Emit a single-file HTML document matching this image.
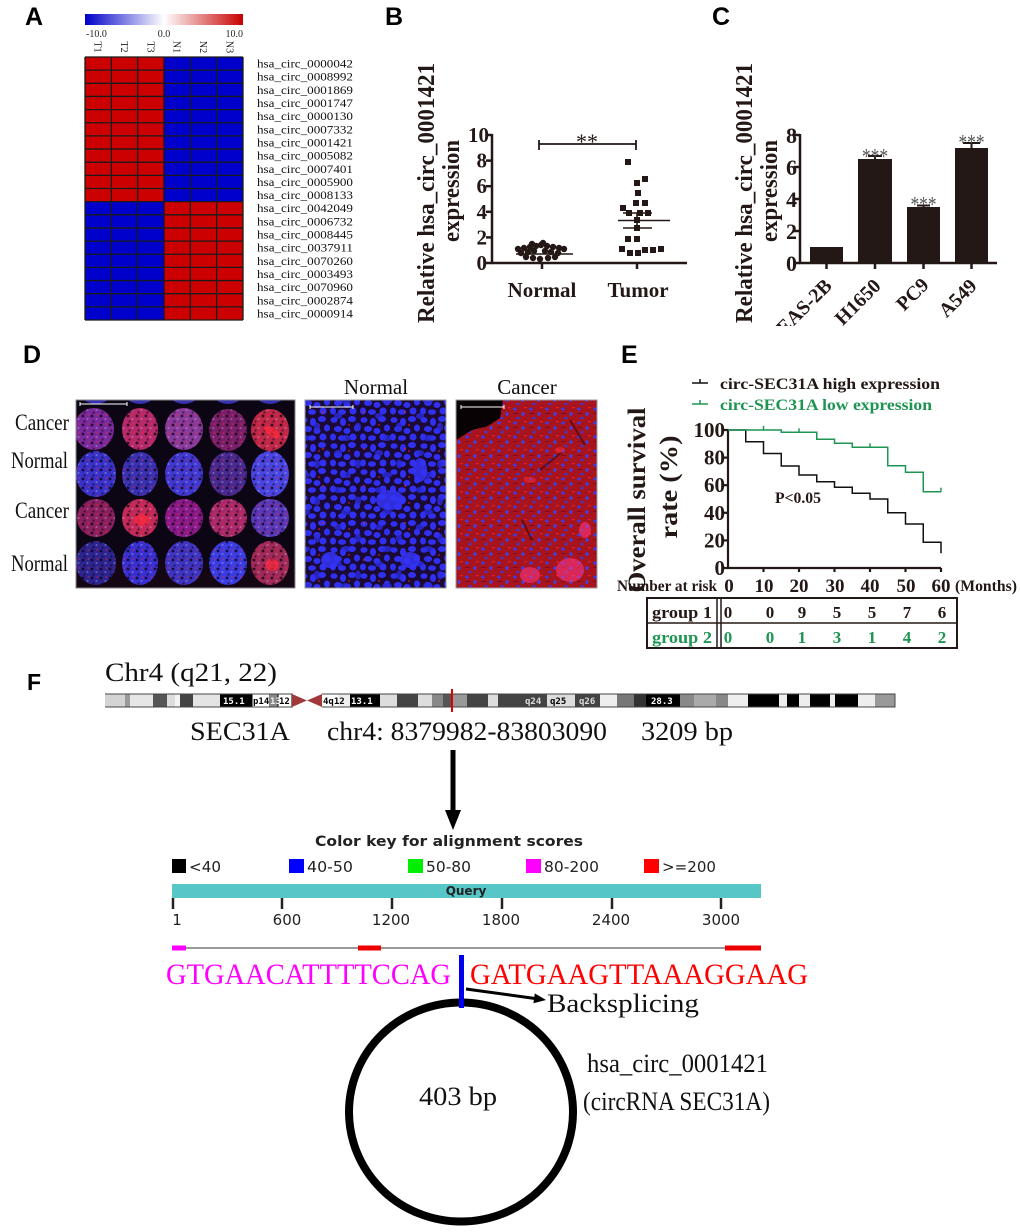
<!DOCTYPE html>
<html><head><meta charset="utf-8">
<style>
html,body{margin:0;padding:0;background:#fff;}
svg{display:block;}
.s{font-family:"Liberation Serif",serif;}
.b{font-weight:bold;}
.sa{font-family:"Liberation Sans",sans-serif;font-weight:bold;}
.dv{font-family:"DejaVu Sans","Liberation Sans",sans-serif;}
.mono{font-family:"DejaVu Sans Mono","Liberation Mono",monospace;font-weight:bold;}
</style></head>
<body>
<svg width="1020" height="1232" viewBox="0 0 1020 1232" xmlns="http://www.w3.org/2000/svg">
<defs>
  <linearGradient id="cbar" x1="0" x2="1" y1="0" y2="0">
    <stop offset="0" stop-color="#0000c8"/>
    <stop offset="0.5" stop-color="#ffffff"/>
    <stop offset="1" stop-color="#c80000"/>
  </linearGradient>
  <pattern id="tex" width="9" height="9" patternUnits="userSpaceOnUse">
    <circle cx="2" cy="2" r="1.4" fill="#000" opacity=".45"/>
    <circle cx="6.5" cy="5" r="1" fill="#fff" opacity=".15"/>
    <circle cx="3.5" cy="7.5" r="1.1" fill="#000" opacity=".3"/>
    <circle cx="7.5" cy="1" r="0.9" fill="#ff2040" opacity=".35"/>
  </pattern>
  <pattern id="tex2" width="13" height="11" patternUnits="userSpaceOnUse">
    <ellipse cx="4" cy="5" rx="2" ry="1.2" fill="#000" opacity=".35"/>
    <circle cx="10" cy="9" r="1" fill="#fff" opacity=".12"/>
  </pattern>
  <pattern id="nuc" width="30" height="26" patternUnits="userSpaceOnUse">
    <g fill="#3030f2">
      <ellipse cx="4" cy="4" rx="3.5" ry="2.8"/>
      <ellipse cx="13" cy="6" rx="3" ry="4"/>
      <ellipse cx="22" cy="3" rx="4" ry="3"/>
      <ellipse cx="27" cy="12" rx="3" ry="3.5"/>
      <ellipse cx="8" cy="13" rx="4" ry="3"/>
      <ellipse cx="17" cy="15" rx="3.5" ry="3"/>
      <ellipse cx="3" cy="21" rx="3" ry="3.5"/>
      <ellipse cx="12" cy="22" rx="4" ry="2.8"/>
      <ellipse cx="23" cy="21" rx="3.5" ry="3.5"/>
    </g>
    <circle cx="19" cy="9" r="0.8" fill="#ff2030"/>
  </pattern>
  <pattern id="nuc2" width="41" height="37" patternUnits="userSpaceOnUse">
    <g fill="#2a2ae0" opacity=".8">
      <ellipse cx="10" cy="9" rx="4" ry="3"/>
      <ellipse cx="30" cy="20" rx="3" ry="4.5"/>
      <ellipse cx="18" cy="31" rx="5" ry="3"/>
    </g>
    <circle cx="36" cy="5" r="0.9" fill="#e02030"/>
  </pattern>
  <pattern id="rdots" width="16" height="14" patternUnits="userSpaceOnUse">
    <ellipse cx="3" cy="3" rx="1.8" ry="1.5" fill="#3a3ae6"/>
    <ellipse cx="11" cy="8" rx="1.6" ry="1.8" fill="#4040e8"/>
    <ellipse cx="6" cy="12" rx="1.5" ry="1.3" fill="#3838e0"/>
    <rect x="12" y="1" width="3" height="1.2" fill="#e02020"/>
    <rect x="1" y="7" width="5" height="1" fill="#600810" opacity=".6"/>
  </pattern>
  <clipPath id="bigclip"><rect x="76" y="400" width="219" height="188"/></clipPath>
  <clipPath id="cclip"><rect x="700" y="0" width="320" height="326"/></clipPath>
</defs>

<!-- ================= PANEL A ================= -->
<text class="sa" x="25" y="25" font-size="25">A</text>
<rect x="85" y="14" width="158" height="11" fill="url(#cbar)"/>
<g class="s" font-size="10" fill="#222">
  <text x="86" y="37">-10.0</text>
  <text x="164" y="37" text-anchor="middle">0.0</text>
  <text x="243" y="37" text-anchor="end">10.0</text>
</g>
<g class="s" font-size="10" fill="#222">
  <text transform="translate(94.7,47) rotate(90)" text-anchor="middle">T1</text>
  <text transform="translate(121,47) rotate(90)" text-anchor="middle">T2</text>
  <text transform="translate(147.3,47) rotate(90)" text-anchor="middle">T3</text>
  <text transform="translate(173.7,47) rotate(90)" text-anchor="middle">N1</text>
  <text transform="translate(200,47) rotate(90)" text-anchor="middle">N2</text>
  <text transform="translate(226.3,47) rotate(90)" text-anchor="middle">N3</text>
</g>
<rect x="85" y="57" width="79" height="144.65" fill="#cc0000"/>
<rect x="164" y="57" width="79" height="144.65" fill="#0000cc"/>
<rect x="85" y="201.65" width="79" height="118.35" fill="#0000cc"/>
<rect x="164" y="201.65" width="79" height="118.35" fill="#cc0000"/>
<g stroke="#1a1a1a" stroke-width="1.3">
  <line x1="85" y1="57" x2="85" y2="320"/><line x1="111.33" y1="57" x2="111.33" y2="320"/>
  <line x1="137.67" y1="57" x2="137.67" y2="320"/><line x1="164" y1="57" x2="164" y2="320"/>
  <line x1="190.33" y1="57" x2="190.33" y2="320"/><line x1="216.67" y1="57" x2="216.67" y2="320"/>
  <line x1="243" y1="57" x2="243" y2="320"/>
  <line x1="85" y1="57" x2="243" y2="57"/><line x1="85" y1="70.15" x2="243" y2="70.15"/>
  <line x1="85" y1="83.3" x2="243" y2="83.3"/><line x1="85" y1="96.45" x2="243" y2="96.45"/>
  <line x1="85" y1="109.6" x2="243" y2="109.6"/><line x1="85" y1="122.75" x2="243" y2="122.75"/>
  <line x1="85" y1="135.9" x2="243" y2="135.9"/><line x1="85" y1="149.05" x2="243" y2="149.05"/>
  <line x1="85" y1="162.2" x2="243" y2="162.2"/><line x1="85" y1="175.35" x2="243" y2="175.35"/>
  <line x1="85" y1="188.5" x2="243" y2="188.5"/><line x1="85" y1="201.65" x2="243" y2="201.65"/>
  <line x1="85" y1="214.8" x2="243" y2="214.8"/><line x1="85" y1="227.95" x2="243" y2="227.95"/>
  <line x1="85" y1="241.1" x2="243" y2="241.1"/><line x1="85" y1="254.25" x2="243" y2="254.25"/>
  <line x1="85" y1="267.4" x2="243" y2="267.4"/><line x1="85" y1="280.55" x2="243" y2="280.55"/>
  <line x1="85" y1="293.7" x2="243" y2="293.7"/><line x1="85" y1="306.85" x2="243" y2="306.85"/>
  <line x1="85" y1="320" x2="243" y2="320"/>
</g>
<g class="s" font-size="11.5" fill="#111">
  <text x="257" y="67.6" textLength="96" lengthAdjust="spacingAndGlyphs">hsa_circ_0000042</text>
  <text x="257" y="80.7" textLength="96" lengthAdjust="spacingAndGlyphs">hsa_circ_0008992</text>
  <text x="257" y="93.9" textLength="96" lengthAdjust="spacingAndGlyphs">hsa_circ_0001869</text>
  <text x="257" y="107" textLength="96" lengthAdjust="spacingAndGlyphs">hsa_circ_0001747</text>
  <text x="257" y="120.2" textLength="96" lengthAdjust="spacingAndGlyphs">hsa_circ_0000130</text>
  <text x="257" y="133.3" textLength="96" lengthAdjust="spacingAndGlyphs">hsa_circ_0007332</text>
  <text x="257" y="146.5" textLength="96" lengthAdjust="spacingAndGlyphs">hsa_circ_0001421</text>
  <text x="257" y="159.6" textLength="96" lengthAdjust="spacingAndGlyphs">hsa_circ_0005082</text>
  <text x="257" y="172.8" textLength="96" lengthAdjust="spacingAndGlyphs">hsa_circ_0007401</text>
  <text x="257" y="185.9" textLength="96" lengthAdjust="spacingAndGlyphs">hsa_circ_0005900</text>
  <text x="257" y="199.1" textLength="96" lengthAdjust="spacingAndGlyphs">hsa_circ_0008133</text>
  <text x="257" y="212.2" textLength="96" lengthAdjust="spacingAndGlyphs">hsa_circ_0042049</text>
  <text x="257" y="225.4" textLength="96" lengthAdjust="spacingAndGlyphs">hsa_circ_0006732</text>
  <text x="257" y="238.5" textLength="96" lengthAdjust="spacingAndGlyphs">hsa_circ_0008445</text>
  <text x="257" y="251.7" textLength="96" lengthAdjust="spacingAndGlyphs">hsa_circ_0037911</text>
  <text x="257" y="264.8" textLength="96" lengthAdjust="spacingAndGlyphs">hsa_circ_0070260</text>
  <text x="257" y="278" textLength="96" lengthAdjust="spacingAndGlyphs">hsa_circ_0003493</text>
  <text x="257" y="291.1" textLength="96" lengthAdjust="spacingAndGlyphs">hsa_circ_0070960</text>
  <text x="257" y="304.3" textLength="96" lengthAdjust="spacingAndGlyphs">hsa_circ_0002874</text>
  <text x="257" y="317.4" textLength="96" lengthAdjust="spacingAndGlyphs">hsa_circ_0000914</text>
</g>

<!-- ================= PANEL B ================= -->
<text class="sa" x="385" y="25" font-size="25">B</text>
<g class="s b" fill="#231815">
  <text transform="translate(434,193) rotate(-90)" text-anchor="middle" font-size="24" textLength="260" lengthAdjust="spacingAndGlyphs">Relative  hsa_circ_0001421</text>
  <text transform="translate(459,191) rotate(-90)" text-anchor="middle" font-size="24" textLength="102" lengthAdjust="spacingAndGlyphs">expression</text>
</g>
<g stroke="#231815" stroke-width="2.5" fill="none">
  <line x1="492" y1="134" x2="492" y2="264"/>
  <line x1="491" y1="263" x2="687" y2="263"/>
  <line x1="486" y1="135" x2="492" y2="135"/><line x1="486" y1="160.6" x2="492" y2="160.6"/>
  <line x1="486" y1="186.2" x2="492" y2="186.2"/><line x1="486" y1="211.8" x2="492" y2="211.8"/>
  <line x1="486" y1="237.4" x2="492" y2="237.4"/><line x1="486" y1="263" x2="492" y2="263"/>
  <line x1="542" y1="263" x2="542" y2="269"/><line x1="637" y1="263" x2="637" y2="269"/>
</g>
<g class="s b" font-size="21" fill="#231815" text-anchor="end">
  <text x="489" y="142">10</text><text x="487" y="167.6">8</text><text x="487" y="193.2">6</text>
  <text x="487" y="218.8">4</text><text x="487" y="244.4">2</text><text x="487" y="270">0</text>
</g>
<g class="s b" font-size="21" fill="#231815" text-anchor="middle">
  <text x="542" y="297">Normal</text><text x="638" y="297">Tumor</text>
</g>
<g stroke="#231815" stroke-width="1.8">
  <line x1="539" y1="144" x2="636" y2="144"/>
  <line x1="539" y1="140" x2="539" y2="150"/><line x1="636" y1="140" x2="636" y2="150"/>
</g>
<text class="s" x="587" y="149" font-size="22" text-anchor="middle" fill="#231815">**</text>
<g fill="#231815">
  <circle cx="518" cy="249" r="3.2"/><circle cx="524" cy="248" r="3.2"/><circle cx="530" cy="247" r="3.2"/>
  <circle cx="536" cy="246" r="3.2"/><circle cx="541" cy="245" r="3.2"/><circle cx="547" cy="246" r="3.2"/>
  <circle cx="553" cy="247" r="3.2"/><circle cx="559" cy="248" r="3.2"/><circle cx="564" cy="249" r="3.2"/>
  <circle cx="521" cy="253" r="3.2"/><circle cx="528" cy="252" r="3.2"/><circle cx="534" cy="251" r="3.2"/>
  <circle cx="545" cy="251" r="3.2"/><circle cx="551" cy="252" r="3.2"/><circle cx="558" cy="253" r="3.2"/>
  <circle cx="526" cy="257" r="3.2"/><circle cx="533" cy="258" r="3.2"/><circle cx="540" cy="259" r="3.2"/>
  <circle cx="548" cy="258" r="3.2"/><circle cx="555" cy="257" r="3.2"/><circle cx="543" cy="243" r="3.2"/>
  <circle cx="532" cy="244" r="3.2"/>
</g>
<g stroke="#231815" stroke-width="1.6">
  <line x1="516" y1="254" x2="573" y2="254"/>
  <line x1="618" y1="220.5" x2="670" y2="220.5"/>
  <line x1="623" y1="213" x2="652" y2="213"/><line x1="623" y1="228" x2="652" y2="228"/>
  <line x1="637" y1="213" x2="637" y2="228"/>
</g>
<g fill="#231815">
  <rect x="625" y="159" width="6" height="6"/><rect x="642" y="176" width="6" height="6"/>
  <rect x="634" y="180" width="6" height="6"/><rect x="635" y="190" width="6" height="6"/>
  <rect x="620" y="205" width="6" height="6"/><rect x="633" y="200" width="6" height="6"/>
  <rect x="642" y="200" width="6" height="6"/><rect x="626" y="210" width="6" height="6"/>
  <rect x="637" y="210" width="6" height="6"/><rect x="645" y="210" width="6" height="6"/>
  <rect x="634" y="217" width="6" height="6"/><rect x="634" y="225" width="6" height="6"/>
  <rect x="625" y="236" width="6" height="6"/><rect x="634" y="236" width="6" height="6"/>
  <rect x="619" y="246" width="6" height="6"/><rect x="627" y="250" width="6" height="6"/>
  <rect x="635" y="250" width="6" height="6"/><rect x="642" y="247" width="6" height="6"/>
  <rect x="650" y="247" width="6" height="6"/><rect x="658" y="246" width="6" height="6"/>
</g>

<!-- ================= PANEL C ================= -->
<text class="sa" x="712" y="25" font-size="25">C</text>
<g clip-path="url(#cclip)">
<g class="s b" fill="#231815">
  <text transform="translate(752,193) rotate(-90)" text-anchor="middle" font-size="24" textLength="260" lengthAdjust="spacingAndGlyphs">Relative hsa_circ_0001421</text>
  <text transform="translate(777,191) rotate(-90)" text-anchor="middle" font-size="24" textLength="102" lengthAdjust="spacingAndGlyphs">expression</text>
</g>
<g fill="#231815">
  <rect x="810" y="247" width="33" height="16"/>
  <rect x="858" y="159" width="34" height="104"/>
  <rect x="907" y="207" width="33" height="56"/>
  <rect x="955" y="148" width="33" height="115"/>
</g>
<g stroke="#231815" stroke-width="2">
  <line x1="875" y1="159" x2="875" y2="156"/><line x1="868" y1="156" x2="882" y2="156"/>
  <line x1="923.5" y1="207" x2="923.5" y2="205.5"/><line x1="917" y1="205.5" x2="930" y2="205.5"/>
  <line x1="971.5" y1="148" x2="971.5" y2="143"/><line x1="963" y1="143" x2="980" y2="143"/>
</g>
<g stroke="#231815" stroke-width="2.5">
  <line x1="800" y1="134" x2="800" y2="264"/>
  <line x1="799" y1="263" x2="997" y2="263"/>
  <line x1="794" y1="135" x2="800" y2="135"/><line x1="794" y1="167" x2="800" y2="167"/>
  <line x1="794" y1="199" x2="800" y2="199"/><line x1="794" y1="231" x2="800" y2="231"/>
  <line x1="794" y1="263" x2="800" y2="263"/>
  <line x1="826.5" y1="263" x2="826.5" y2="269"/><line x1="875" y1="263" x2="875" y2="269"/>
  <line x1="923.5" y1="263" x2="923.5" y2="269"/><line x1="971.5" y1="263" x2="971.5" y2="269"/>
</g>
<g class="s b" font-size="22" fill="#231815" text-anchor="end">
  <text x="797" y="143">8</text><text x="797" y="175">6</text><text x="797" y="207">4</text>
  <text x="797" y="239">2</text><text x="797" y="271">0</text>
</g>
<g class="s" font-size="22" fill="#555" text-anchor="middle">
  <text x="875" y="163.6" textLength="26" lengthAdjust="spacingAndGlyphs">***</text>
  <text x="923.5" y="211.6" textLength="26" lengthAdjust="spacingAndGlyphs">***</text>
  <text x="971.5" y="149.6" textLength="26" lengthAdjust="spacingAndGlyphs">***</text>
</g>
<g class="s b" font-size="20" fill="#231815" text-anchor="end">
  <text transform="translate(833,287) rotate(-45)">BEAS-2B</text>
  <text transform="translate(882,287) rotate(-45)">H1650</text>
  <text transform="translate(930,286) rotate(-45)">PC9</text>
  <text transform="translate(978,287) rotate(-45)">A549</text>
</g>
</g>

<!-- ================= PANEL D ================= -->
<text class="sa" x="23" y="363" font-size="25">D</text>
<g class="s" font-size="23" fill="#111">
  <text x="15" y="430" textLength="54" lengthAdjust="spacingAndGlyphs">Cancer</text>
  <text x="11" y="468" textLength="57" lengthAdjust="spacingAndGlyphs">Normal</text>
  <text x="15" y="518" textLength="54" lengthAdjust="spacingAndGlyphs">Cancer</text>
  <text x="11" y="571" textLength="57" lengthAdjust="spacingAndGlyphs">Normal</text>
  <text x="376" y="394" text-anchor="middle" font-size="21">Normal</text>
  <text x="527" y="394" text-anchor="middle" font-size="21">Cancer</text>
</g>
<rect x="76" y="400" width="219" height="188" fill="#0c0614"/>
<g clip-path="url(#bigclip)">
  <rect x="76" y="560" width="219" height="28" fill="#1a0610" opacity=".6"/>
  <g fill="#3630b4">
    <ellipse cx="96" cy="383" rx="20" ry="21"/><ellipse cx="140" cy="383" rx="20" ry="21"/>
    <ellipse cx="184" cy="383" rx="20" ry="21"/><ellipse cx="228" cy="383" rx="20" ry="21"/>
    <ellipse cx="270" cy="383" rx="20" ry="21"/>
  </g>
  <ellipse cx="94" cy="429" rx="20" ry="21" fill="#7a2a9c"/>
  <ellipse cx="140" cy="429" rx="18" ry="21" fill="#b52a6a"/>
  <ellipse cx="184" cy="429" rx="19" ry="21" fill="#8a3a9a"/>
  <ellipse cx="228" cy="430" rx="19" ry="21" fill="#7a1f6a"/>
  <ellipse cx="270" cy="430" rx="19" ry="21" fill="#c0284a"/>
  <ellipse cx="96" cy="474" rx="20" ry="23" fill="#3a32c8"/>
  <ellipse cx="140" cy="474" rx="18" ry="22" fill="#3a30b0"/>
  <ellipse cx="184" cy="474" rx="19" ry="22" fill="#4038d0"/>
  <ellipse cx="228" cy="474" rx="19" ry="22" fill="#4a2a90"/>
  <ellipse cx="270" cy="474" rx="19" ry="23" fill="#4a44e0"/>
  <ellipse cx="96" cy="518" rx="19" ry="19" fill="#8a2060"/>
  <ellipse cx="140" cy="518" rx="18" ry="19" fill="#c02a5a"/>
  <ellipse cx="184" cy="518" rx="19" ry="19" fill="#8a1a8a"/>
  <ellipse cx="228" cy="518" rx="19" ry="19" fill="#a82a6a"/>
  <ellipse cx="270" cy="518" rx="19" ry="19" fill="#5a38b8"/>
  <ellipse cx="96" cy="563" rx="20" ry="22" fill="#2e2490"/>
  <ellipse cx="140" cy="563" rx="18" ry="22" fill="#3a30d0"/>
  <ellipse cx="184" cy="563" rx="19" ry="22" fill="#3e34c0"/>
  <ellipse cx="228" cy="563" rx="19" ry="22" fill="#3c3ce0"/>
  <ellipse cx="270" cy="563" rx="19" ry="22" fill="#a02a5a"/>
  <g id="circs" fill="url(#tex)">
    <ellipse cx="94" cy="429" rx="20" ry="21"/><ellipse cx="140" cy="429" rx="18" ry="21"/>
    <ellipse cx="184" cy="429" rx="19" ry="21"/><ellipse cx="228" cy="430" rx="19" ry="21"/>
    <ellipse cx="270" cy="430" rx="19" ry="21"/>
    <ellipse cx="96" cy="474" rx="20" ry="23"/><ellipse cx="140" cy="474" rx="18" ry="22"/>
    <ellipse cx="184" cy="474" rx="19" ry="22"/><ellipse cx="228" cy="474" rx="19" ry="22"/>
    <ellipse cx="270" cy="474" rx="19" ry="23"/>
    <ellipse cx="96" cy="518" rx="19" ry="19"/><ellipse cx="140" cy="518" rx="18" ry="19"/>
    <ellipse cx="184" cy="518" rx="19" ry="19"/><ellipse cx="228" cy="518" rx="19" ry="19"/>
    <ellipse cx="270" cy="518" rx="19" ry="19"/>
    <ellipse cx="96" cy="563" rx="20" ry="22"/><ellipse cx="140" cy="563" rx="18" ry="22"/>
    <ellipse cx="184" cy="563" rx="19" ry="22"/><ellipse cx="228" cy="563" rx="19" ry="22"/>
    <ellipse cx="270" cy="563" rx="19" ry="22"/>
  </g>
  <use href="#circs" fill="url(#tex2)"/>
  <g fill="#ff2a3a" opacity=".7">
    <ellipse cx="272" cy="432" rx="9" ry="4" transform="rotate(30 272 432)"/>
    <ellipse cx="142" cy="520" rx="8" ry="6"/>
    <ellipse cx="272" cy="565" rx="7" ry="6"/>
  </g>
</g>
<rect x="76" y="400" width="219" height="188" fill="none" stroke="#888" stroke-width="1"/>
<g stroke="#fff" stroke-width="1">
  <line x1="80" y1="404" x2="127" y2="404"/><line x1="80" y1="402" x2="80" y2="406"/><line x1="127" y1="402" x2="127" y2="406"/>
</g>

<!-- middle image -->
<rect x="305" y="400" width="141" height="188" fill="#1a0a34"/>
<rect x="305" y="400" width="141" height="188" fill="url(#nuc)"/>
<rect x="305" y="400" width="141" height="188" fill="url(#nuc2)"/>
<g fill="#3434f8" opacity=".85">
  <ellipse cx="390" cy="500" rx="14" ry="10"/><ellipse cx="420" cy="470" rx="7" ry="12"/>
  <ellipse cx="330" cy="560" rx="9" ry="8"/><ellipse cx="410" cy="560" rx="10" ry="8"/>
</g>
<rect x="305" y="400" width="141" height="188" fill="none" stroke="#999" stroke-width="1"/>
<g stroke="#fff" stroke-width="1">
  <line x1="310" y1="407" x2="353" y2="407"/><line x1="310" y1="405" x2="310" y2="409"/><line x1="353" y1="405" x2="353" y2="409"/>
</g>

<!-- right image -->
<rect x="456" y="400" width="141" height="188" fill="#a8141e"/>
<rect x="456" y="400" width="141" height="188" fill="url(#rdots)"/>
<path d="M456,400 L503,400 L500,418 L488,426 L472,430 L456,440 Z" fill="#080204"/>
<g stroke="#3a0608" stroke-width="2" opacity=".6" fill="none">
  <path d="M540,470 L562,452"/><path d="M522,520 L532,540"/><path d="M570,420 L585,445"/>
</g>
<g fill="#ff2a3a" opacity=".5">
  <ellipse cx="530" cy="480" rx="6" ry="3"/><ellipse cx="560" cy="450" rx="5" ry="3"/>
</g>
<g fill="#ff3a8a" opacity=".55">
  <ellipse cx="570" cy="570" rx="14" ry="12"/><ellipse cx="530" cy="575" rx="10" ry="8"/>
  <ellipse cx="585" cy="530" rx="6" ry="8"/>
</g>
<rect x="456" y="400" width="141" height="188" fill="none" stroke="#999" stroke-width="1"/>
<g stroke="#fff" stroke-width="1">
  <line x1="461" y1="407" x2="504" y2="407"/><line x1="461" y1="405" x2="461" y2="409"/><line x1="504" y1="405" x2="504" y2="409"/>
</g>

<!-- ================= PANEL E ================= -->
<text class="sa" x="621" y="363" font-size="25">E</text>
<g stroke-width="1.5" fill="none">
  <path d="M692,383 H708 M700,379 V383" stroke="#111"/>
  <path d="M692,404 H708 M700,400 V404" stroke="#1f9553"/>
</g>
<g class="s b" font-size="16">
  <text x="720" y="389" fill="#231815" textLength="220" lengthAdjust="spacingAndGlyphs">circ-SEC31A high expression</text>
  <text x="720" y="410" fill="#1f9553" textLength="212" lengthAdjust="spacingAndGlyphs">circ-SEC31A low expression</text>
</g>
<g class="s b" fill="#231815">
  <text transform="translate(645,500) rotate(-90)" text-anchor="middle" font-size="25" textLength="185" lengthAdjust="spacingAndGlyphs">Overall survival</text>
  <text transform="translate(677,487) rotate(-90)" text-anchor="middle" font-size="25" textLength="103" lengthAdjust="spacingAndGlyphs">rate (%)</text>
</g>
<g stroke="#231815" stroke-width="2.2">
  <line x1="728" y1="429" x2="728" y2="569"/>
  <line x1="727" y1="568" x2="941" y2="568"/>
  <line x1="723" y1="430" x2="728" y2="430"/><line x1="723" y1="457.6" x2="728" y2="457.6"/>
  <line x1="723" y1="485.2" x2="728" y2="485.2"/><line x1="723" y1="512.8" x2="728" y2="512.8"/>
  <line x1="723" y1="540.4" x2="728" y2="540.4"/><line x1="723" y1="568" x2="728" y2="568"/>
  <line x1="763.5" y1="568" x2="763.5" y2="572"/><line x1="799" y1="568" x2="799" y2="572"/>
  <line x1="834.5" y1="568" x2="834.5" y2="572"/><line x1="870" y1="568" x2="870" y2="572"/>
  <line x1="905.5" y1="568" x2="905.5" y2="572"/><line x1="941" y1="568" x2="941" y2="572"/>
</g>
<g class="s b" font-size="21" fill="#231815" text-anchor="end">
  <text x="725" y="437">100</text><text x="725" y="464.6">80</text><text x="725" y="492.2">60</text>
  <text x="725" y="519.8">40</text><text x="725" y="547.4">20</text><text x="725" y="575">0</text>
</g>
<g class="s b" font-size="19" fill="#231815" text-anchor="middle">
  <text x="729" y="592">0</text><text x="764" y="592">10</text><text x="799" y="592">20</text>
  <text x="835" y="592">30</text><text x="870" y="592">40</text><text x="906" y="592">50</text>
  <text x="941" y="592">60</text>
</g>
<g class="s b" font-size="16" fill="#231815">
  <text x="617" y="591" textLength="100" lengthAdjust="spacingAndGlyphs">Number at risk</text>
  <text x="955" y="591" textLength="62" lengthAdjust="spacingAndGlyphs">(Months)</text>
  <text x="775" y="503" textLength="46" lengthAdjust="spacingAndGlyphs">P&lt;0.05</text>
</g>
<path d="M728,430 H745.75 V441.7 H763.5 V453.5 H781.25 V466 H799 V475 H816.75 V481.7 H834.5 V487.3 H852.25 V493.3 H870 V499 H887.75 V512.7 H905.5 V524 H923.25 V542.3 H941 V553.3" fill="none" stroke="#111" stroke-width="1.5"/>
<path d="M728,430 H781.25 V432.3 H816.75 V439.3 H834.5 V443.3 H852.25 V447.3 H887.75 V465.7 H905.5 V472.3 H923.25 V491.7 H941" fill="none" stroke="#1f9553" stroke-width="1.5"/>
<g stroke="#1f9553" stroke-width="1.5">
  <line x1="763.5" y1="430" x2="763.5" y2="426"/><line x1="799" y1="432.3" x2="799" y2="428.3"/>
  <line x1="870" y1="447.3" x2="870" y2="443.3"/><line x1="941" y1="491.7" x2="941" y2="487.7"/>
</g>
<rect x="647" y="598" width="310" height="50" fill="none" stroke="#231815" stroke-width="2"/>
<g stroke="#231815" stroke-width="1.5">
  <line x1="647" y1="623" x2="957" y2="623"/>
  <line x1="717" y1="598" x2="717" y2="648"/><line x1="721" y1="598" x2="721" y2="648"/>
</g>
<g class="s b" font-size="17">
  <text x="652" y="618" fill="#231815" textLength="60" lengthAdjust="spacingAndGlyphs">group 1</text>
  <text x="652" y="643" fill="#1f9553" textLength="60" lengthAdjust="spacingAndGlyphs">group 2</text>
  <g fill="#231815" text-anchor="middle">
    <text x="728" y="618">0</text><text x="770" y="618">0</text><text x="802" y="618">9</text>
    <text x="837" y="618">5</text><text x="872" y="618">5</text><text x="907" y="618">7</text><text x="942" y="618">6</text>
  </g>
  <g fill="#1f9553" text-anchor="middle">
    <text x="728" y="643">0</text><text x="770" y="643">0</text><text x="802" y="643">1</text>
    <text x="837" y="643">3</text><text x="872" y="643">1</text><text x="907" y="643">4</text><text x="942" y="643">2</text>
  </g>
</g>

<!-- ================= PANEL F ================= -->
<text class="sa" x="27" y="690" font-size="23">F</text>
<text class="s" x="105" y="681" font-size="26" fill="#111" textLength="172" lengthAdjust="spacingAndGlyphs">Chr4 (q21, 22)</text>
<g>
  <rect x="105" y="694" width="790" height="13" fill="#fff"/>
  <rect x="105" y="694" width="20" height="13" fill="#d4d4d4"/>
  <rect x="125" y="694" width="5" height="13" fill="#9a9a9a"/>
  <rect x="130" y="694" width="23" height="13" fill="#e6e6e6"/>
  <rect x="153" y="694" width="14" height="13" fill="#555"/>
  <rect x="167" y="694" width="8" height="13" fill="#ddd"/>
  <rect x="175" y="694" width="5" height="13" fill="#f4f4f4"/>
  <rect x="180" y="694" width="13" height="13" fill="#444"/>
  <rect x="193" y="694" width="27" height="13" fill="#e4e4e4"/>
  <rect x="220" y="694" width="32" height="13" fill="#000"/>
  <rect x="252" y="694" width="18" height="13" fill="#fff" stroke="#000" stroke-width="1"/>
  <rect x="270" y="694" width="8" height="13" fill="#888"/>
  <rect x="278" y="694" width="14" height="13" fill="#fff" stroke="#000" stroke-width="1"/>
  <polygon points="292,694 307,700.5 292,707" fill="#a03a3a"/>
  <polygon points="322,694 307,700.5 322,707" fill="#a03a3a"/>
  <rect x="322" y="694" width="16" height="13" fill="#fff"/>
  <rect x="338" y="694" width="12" height="13" fill="#eee"/>
  <rect x="350" y="694" width="30" height="13" fill="#000"/>
  <rect x="380" y="694" width="17" height="13" fill="#ddd"/>
  <rect x="397" y="694" width="21" height="13" fill="#444"/>
  <rect x="418" y="694" width="14" height="13" fill="#ddd"/>
  <rect x="432" y="694" width="11" height="13" fill="#888"/>
  <rect x="443" y="694" width="9" height="13" fill="#555"/>
  <rect x="452" y="694" width="15" height="13" fill="#999"/>
  <rect x="467" y="694" width="21" height="13" fill="#444"/>
  <rect x="488" y="694" width="10" height="13" fill="#ddd"/>
  <rect x="498" y="694" width="23" height="13" fill="#444"/>
  <rect x="521" y="694" width="26" height="13" fill="#444"/>
  <rect x="547" y="694" width="28" height="13" fill="#ddd"/>
  <rect x="575" y="694" width="25" height="13" fill="#444"/>
  <rect x="600" y="694" width="17" height="13" fill="#eee"/>
  <rect x="617" y="694" width="17" height="13" fill="#777"/>
  <rect x="634" y="694" width="12" height="13" fill="#333"/>
  <rect x="646" y="694" width="34" height="13" fill="#000"/>
  <rect x="680" y="694" width="14" height="13" fill="#888"/>
  <rect x="694" y="694" width="22" height="13" fill="#aaa"/>
  <rect x="716" y="694" width="12" height="13" fill="#888"/>
  <rect x="728" y="694" width="20" height="13" fill="#eee"/>
  <rect x="748" y="694" width="31" height="13" fill="#000"/>
  <rect x="779" y="694" width="8" height="13" fill="#eee"/>
  <rect x="787" y="694" width="12" height="13" fill="#000"/>
  <rect x="799" y="694" width="11" height="13" fill="#eee"/>
  <rect x="810" y="694" width="20" height="13" fill="#000"/>
  <rect x="830" y="694" width="5" height="13" fill="#eee"/>
  <rect x="835" y="694" width="23" height="13" fill="#000"/>
  <rect x="858" y="694" width="17" height="13" fill="#eee"/>
  <rect x="875" y="694" width="20" height="13" fill="#999"/>
  <path d="M105,694 H292 M322,694 H895 V707 H322 M292,707 H105 Z" fill="none" stroke="#444" stroke-width="1"/>
  <g class="mono" font-size="9">
    <text x="223" y="704" fill="#fff">15.1</text>
    <text x="253" y="704" fill="#000">p14</text>
    <text x="270" y="704" fill="#eee">13</text>
    <text x="279" y="704" fill="#000">12</text>
    <text x="323" y="704" fill="#000">4q12</text>
    <text x="351" y="704" fill="#fff">13.1</text>
    <text x="525" y="704" fill="#ddd">q24</text>
    <text x="550" y="704" fill="#000">q25</text>
    <text x="579" y="704" fill="#ddd">q26</text>
    <text x="651" y="704" fill="#fff">28.3</text>
  </g>
  <line x1="452" y1="689" x2="452" y2="712" stroke="#e00000" stroke-width="2"/>
</g>
<g class="s" font-size="26" fill="#111">
  <text x="190" y="740" textLength="100" lengthAdjust="spacingAndGlyphs">SEC31A</text>
  <text x="327" y="740" textLength="280" lengthAdjust="spacingAndGlyphs">chr4: 8379982-83803090</text>
  <text x="641" y="740" textLength="92" lengthAdjust="spacingAndGlyphs">3209 bp</text>
</g>
<line x1="453" y1="750" x2="453" y2="812" stroke="#000" stroke-width="5"/>
<polygon points="445,810 461,810 453,830" fill="#000"/>

<text class="dv" x="315" y="846" font-size="14" font-weight="bold" fill="#222" textLength="268" lengthAdjust="spacingAndGlyphs">Color key for alignment scores</text>
<rect x="172" y="859" width="14" height="14" fill="#000"/>
<rect x="289" y="859" width="15" height="14" fill="#0000ff"/>
<rect x="408" y="859" width="15" height="14" fill="#00ee00"/>
<rect x="526" y="859" width="15" height="14" fill="#ff00ff"/>
<rect x="644" y="859" width="15" height="14" fill="#ff0000"/>
<g class="dv" font-size="15" fill="#222">
  <text x="189" y="872" textLength="32" lengthAdjust="spacingAndGlyphs">&lt;40</text>
  <text x="307" y="872" textLength="46" lengthAdjust="spacingAndGlyphs">40-50</text>
  <text x="426" y="872" textLength="45" lengthAdjust="spacingAndGlyphs">50-80</text>
  <text x="544" y="872" textLength="55" lengthAdjust="spacingAndGlyphs">80-200</text>
  <text x="662" y="872" textLength="54" lengthAdjust="spacingAndGlyphs">&gt;=200</text>
</g>
<rect x="172" y="884" width="589" height="14" fill="#57c6c6"/>
<text class="dv" x="466" y="895" font-size="12" font-weight="bold" fill="#222" text-anchor="middle">Query</text>
<g stroke="#222" stroke-width="2.5">
  <line x1="173" y1="898" x2="173" y2="909"/><line x1="282" y1="898" x2="282" y2="909"/>
  <line x1="392" y1="898" x2="392" y2="909"/><line x1="502" y1="898" x2="502" y2="909"/>
  <line x1="612" y1="898" x2="612" y2="909"/><line x1="721" y1="898" x2="721" y2="909"/>
</g>
<g class="dv" font-size="15" fill="#222" text-anchor="middle">
  <text x="177" y="925">1</text><text x="287" y="925">600</text><text x="391" y="925">1200</text>
  <text x="501" y="925">1800</text><text x="611" y="925">2400</text><text x="721" y="925">3000</text>
</g>
<line x1="172" y1="948" x2="761" y2="948" stroke="#999" stroke-width="2"/>
<rect x="172" y="945.5" width="14" height="5" fill="#ff00ff"/>
<rect x="358" y="945.5" width="23" height="5" fill="#ee0000"/>
<rect x="725" y="945.5" width="36" height="5" fill="#ee0000"/>

<g class="s" font-size="30">
  <text x="166" y="984" fill="#ff00ff" textLength="285" lengthAdjust="spacingAndGlyphs">GTGAACATTTTCCAG</text>
  <text x="470" y="984" fill="#ff0000" textLength="338" lengthAdjust="spacingAndGlyphs">GATGAAGTTAAAGGAAG</text>
</g>

<ellipse cx="461" cy="1112" rx="112" ry="109.5" fill="none" stroke="#000" stroke-width="8"/>
<rect x="459" y="955" width="5" height="53" fill="#0000ee"/>
<line x1="466" y1="989" x2="535" y2="998.5" stroke="#000" stroke-width="3"/>
<polygon points="546,1000 534.8,993.4 533.4,1003.3" fill="#000"/>
<g class="s" font-size="26" fill="#111">
  <text x="547" y="1012" textLength="152" lengthAdjust="spacingAndGlyphs">Backsplicing</text>
  <text x="419" y="1105" textLength="78" lengthAdjust="spacingAndGlyphs">403 bp</text>
  <text x="587" y="1072" textLength="181" lengthAdjust="spacingAndGlyphs">hsa_circ_0001421</text>
  <text x="583" y="1110" textLength="187" lengthAdjust="spacingAndGlyphs">(circRNA SEC31A)</text>
</g>
</svg>
</body></html>
